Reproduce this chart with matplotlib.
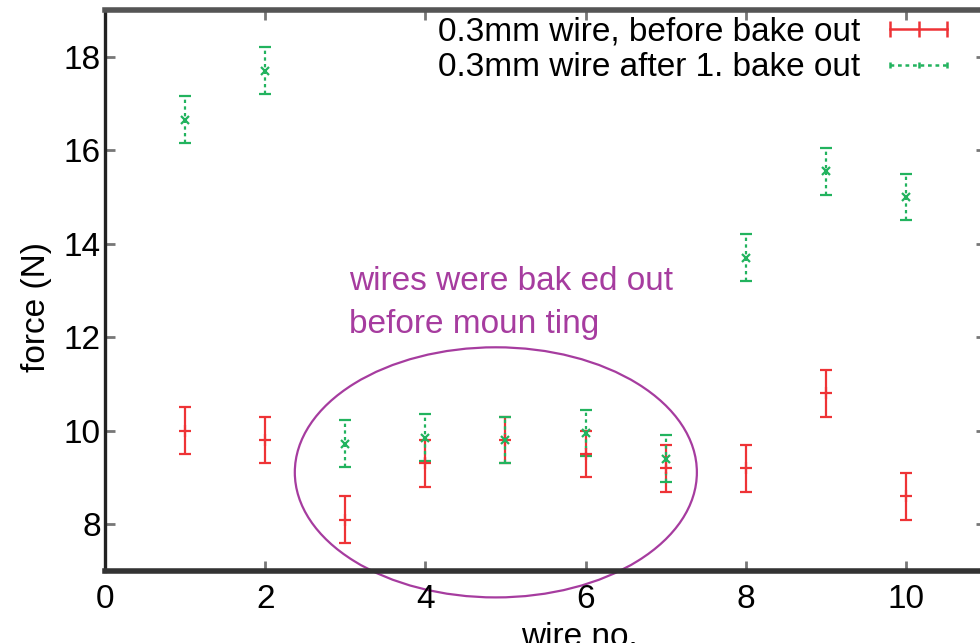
import numpy as np
import matplotlib
matplotlib.use("Agg")
import matplotlib.pyplot as plt
from matplotlib.patches import Ellipse
from matplotlib.lines import Line2D

plt.rcParams['font.family'] = ['Liberation Sans', 'DejaVu Sans']
plt.rcParams['font.size'] = 24

# wire pull force measurements
wire_no = [1, 2, 3, 4, 5, 6, 7, 8, 9, 10]
force_before = [10.0, 9.8, 8.1, 9.3, 9.8, 9.5, 9.2, 9.2, 10.8, 8.6]
err_before = [0.5, 0.5, 0.5, 0.5, 0.5, 0.5, 0.5, 0.5, 0.5, 0.5]
force_after = [16.65, 17.7, 9.72, 9.85, 9.8, 9.95, 9.4, 13.7, 15.55, 15.0]
err_after = [0.5, 0.5, 0.5, 0.5, 0.5, 0.5, 0.5, 0.5, 0.5, 0.5]

label_before = '0.3mm wire, before bake out'
label_after = '0.3mm wire after 1. bake out'
note_lines = ['wires were bak ed out', 'before moun ting']

red = '#ee3336'
green = '#22b35e'
purple = '#a63c9f'

fig = plt.figure(figsize=(9.8, 6.43), dpi=100)
ax = fig.add_axes([105/980, 1 - 571/643, 881/980, 561/643])

ax.errorbar(wire_no, force_before, yerr=err_before, fmt='+', color=red,
            ms=9, mew=1.6, elinewidth=1.6, capsize=4.3, capthick=1.6)
eb = ax.errorbar(wire_no, force_after, yerr=err_after, fmt='x', color=green,
                 ms=6, mew=1.6, elinewidth=1.6, capsize=4.3, capthick=1.6)
for lc in eb[2]:
    lc.set_linestyle((0, (1.5, 1.5)))

# group of wires that were baked out before mounting
ax.add_patch(Ellipse((4.88, 9.11), 5.02, 5.35, fill=False, edgecolor=purple,
                     lw=1.6, clip_on=False))
for i, line in enumerate(note_lines):
    ax.text(3.05, 13.0 - 0.9 * i, line, color=purple, fontsize=24,
            va='baseline', ha='left')

ax.set_xlim(0, 11)
ax.set_ylim(7, 19)
ax.set_xticks(np.arange(0, 11, 2))
ax.set_yticks(np.arange(8, 19, 2))
ax.tick_params(direction='in', length=7, width=2, color='#777',
               top=True, right=True, labelsize=24)
ax.tick_params(axis='x', pad=9)
ax.tick_params(axis='y', pad=3)

ax.spines['top'].set_linewidth(4)
ax.spines['top'].set_color('#555')
ax.spines['left'].set_linewidth(2.4)
ax.spines['left'].set_color('#222')
ax.spines['bottom'].set_linewidth(4)
ax.spines['bottom'].set_color('#333')
ax.spines['right'].set_linewidth(2.4)
ax.spines['right'].set_color('#222')

ax.set_xlabel('wire no.', fontsize=24)
ax.set_ylabel('force (N)', fontsize=24)
ax.xaxis.set_label_coords(0.539, -0.091)
ax.yaxis.set_label_coords(-0.06, 0.47)

handles = [
    Line2D([], [], color=red, lw=1.8, marker='|', ms=11, mew=1.8),
    Line2D([], [], color=green, lw=1.8, ls=(0, (1.5, 1.5)), marker='|',
           ms=5, mew=1.8),
]
ax.legend(handles, [label_before, label_after], loc='upper right',
          bbox_to_anchor=(0.967, 0.988), frameon=False, markerfirst=False,
          numpoints=3, handlelength=2.3, handletextpad=0.6,
          labelspacing=0.14, borderpad=0, borderaxespad=0, fontsize=24)

fig.savefig('out.png', dpi=100)
